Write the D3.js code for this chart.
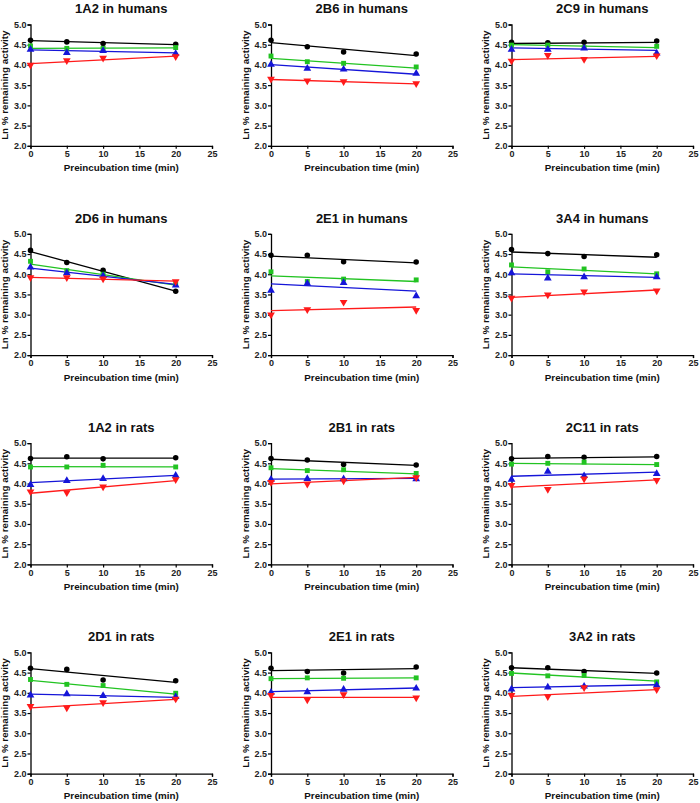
<!DOCTYPE html>
<html><head><meta charset="utf-8">
<script src="https://cdn.jsdelivr.net/npm/d3@7"></script>
<style>body{margin:0;background:#fff;} text{font-family:"Liberation Sans",Arial,sans-serif;font-weight:bold;}</style>
</head><body>
<svg id="c" width="700" height="803"></svg>
<script>
const panelTitles = ["1A2 in humans","2B6 in humans","2C9 in humans",
  "2D6 in humans","2E1 in humans","3A4 in humans",
  "1A2 in rats","2B1 in rats","2C11 in rats",
  "2D1 in rats","2E1 in rats","3A2 in rats"];
const times = [0, 5, 10, 20];
const xTicks = [0, 5, 10, 15, 20, 25];
const yTicks = [2.0, 2.5, 3.0, 3.5, 4.0, 4.5, 5.0];

// measured points per panel (x = 0, 5, 10, 20)
const blackPts = [
  [4.61,4.57,4.53,4.51],[4.61,4.45,4.32,4.27],[4.56,4.55,4.56,4.59],
  [4.59,4.29,4.10,3.58],[4.47,4.47,4.31,4.30],[4.61,4.51,4.44,4.48],
  [4.62,4.66,4.61,4.64],[4.62,4.58,4.47,4.46],[4.61,4.67,4.65,4.67],
  [4.61,4.58,4.32,4.30],[4.61,4.53,4.49,4.64],[4.62,4.62,4.53,4.49]];
const greenPts = [
  [4.47,4.41,4.41,4.43],[4.22,4.08,4.04,3.95],[4.49,4.49,4.43,4.46],
  [4.32,4.09,4.00,3.75],[4.06,3.82,3.88,3.86],[4.23,4.06,4.13,4.01],
  [4.41,4.41,4.45,4.41],[4.39,4.32,4.34,4.25],[4.48,4.50,4.53,4.47],
  [4.33,4.21,4.18,3.99],[4.35,4.37,4.36,4.37],[4.48,4.42,4.43,4.27]];
const bluePts = [
  [4.38,4.30,4.35,4.28],[4.01,3.91,3.89,3.79],[4.38,4.38,4.41,4.29],
  [4.17,4.03,3.96,3.73],[3.60,3.77,3.79,3.46],[4.03,3.90,3.93,3.93],
  [3.97,4.07,4.12,4.20],[4.10,4.12,4.11,4.11],[4.10,4.30,4.19,4.24],
  [3.94,3.97,3.93,3.90],[4.01,4.02,4.08,4.11],[4.09,4.14,4.16,4.19]];
const redPts = [
  [4.00,4.11,4.17,4.21],[3.65,3.61,3.59,3.54],[4.10,4.24,4.14,4.23],
  [3.92,3.92,3.89,3.82],[3.00,3.13,3.31,3.11],[3.41,3.49,3.57,3.59],
  [3.80,3.78,3.92,4.10],[4.03,3.99,4.07,4.15],[3.96,3.86,4.12,4.08],
  [3.67,3.63,3.76,3.85],[3.94,3.83,3.96,3.88],[3.94,3.91,4.13,4.08]];

// fitted line values at x = 0 and x = 20
const blackFit = [[4.60,4.50],[4.55,4.23],[4.53,4.56],[4.56,3.58],[4.45,4.28],[4.55,4.42],
  [4.63,4.63],[4.60,4.45],[4.62,4.66],[4.60,4.26],[4.55,4.60],[4.62,4.48]];
const greenFit = [[4.41,4.42],[4.16,3.92],[4.50,4.43],[4.25,3.73],[3.96,3.82],[4.18,4.01],
  [4.42,4.41],[4.37,4.24],[4.50,4.47],[4.31,3.97],[4.35,4.37],[4.49,4.29]];
const blueFit = [[4.37,4.30],[4.01,3.77],[4.42,4.36],[4.15,3.75],[3.76,3.58],[4.01,3.92],
  [4.02,4.20],[4.11,4.13],[4.18,4.28],[3.97,3.89],[4.03,4.12],[4.13,4.20]];
const redFit = [[4.03,4.22],[3.64,3.53],[4.13,4.21],[3.92,3.83],[3.10,3.19],[3.43,3.61],
  [3.76,4.07],[3.99,4.15],[3.91,4.09],[3.63,3.84],[3.89,3.89],[3.91,4.08]];
const fitX = [0, 20];

const series = [
  {pts: blackPts, fit: blackFit, color: "#000000", sym: d3.symbolCircle, size: 24, rot: 0},
  {pts: greenPts, fit: greenFit, color: "#22c322", sym: d3.symbolSquare, size: 24, rot: 0},
  {pts: bluePts,  fit: blueFit,  color: "#1515d8", sym: d3.symbolTriangle, size: 26, rot: 0},
  {pts: redPts,   fit: redFit,   color: "#ff1a1a", sym: d3.symbolTriangle, size: 26, rot: 180}
];

const svg = d3.select("#c");
const W = 181.5, H = 121.3;
panelTitles.forEach((title, i) => {
  const col = i % 3, row = Math.floor(i / 3);
  const ox = 30.5 + col * 240.5, oy = 24.5 + row * 209.3;
  const g = svg.append("g").attr("transform", `translate(${ox},${oy})`);
  const x = d3.scaleLinear().domain([0, 25]).range([0, W]);
  const y = d3.scaleLinear().domain([2, 5]).range([H, 0]);

  const xa = g.append("g").attr("transform", `translate(0,${H})`)
    .call(d3.axisBottom(x).tickValues(xTicks).tickSize(3).tickPadding(2).tickFormat(d3.format("d")));
  const ya = g.append("g")
    .call(d3.axisLeft(y).tickValues(yTicks).tickSize(3).tickPadding(1).tickFormat(d3.format(".1f")));
  [xa, ya].forEach(a => {
    a.select(".domain").attr("stroke", "#000").attr("stroke-width", 1.3);
    a.selectAll(".tick line").attr("stroke", "#000").attr("stroke-width", 1.2);
    a.selectAll(".tick text").attr("fill", "#222").style("font-size", "9px")
      .style("font-family", "'Liberation Sans',Arial,sans-serif").style("font-weight", "bold");
  });

  g.append("text").attr("x", W / 2).attr("y", -14.5).attr("text-anchor", "middle")
    .attr("dominant-baseline", "middle").style("font-size", "13px").attr("fill", "#111").text(title);
  g.append("text").attr("x", W / 2).attr("y", H + 23).attr("text-anchor", "middle")
    .attr("dominant-baseline", "middle").style("font-size", "9.8px").attr("fill", "#111")
    .text("Preincubation time (min)");
  g.append("text").attr("transform", `translate(-25,${H / 2}) rotate(-90)`)
    .attr("text-anchor", "middle").attr("dominant-baseline", "middle")
    .style("font-size", "9.8px").attr("fill", "#111").text("Ln % remaining activity");

  series.forEach(s => {
    const f = s.fit[i];
    g.append("line").attr("x1", x(fitX[0])).attr("y1", y(f[0]))
      .attr("x2", x(fitX[1])).attr("y2", y(f[1]))
      .attr("stroke", s.color).attr("stroke-width", 1.3);
  });
  series.forEach(s => {
    const sym = d3.symbol().type(s.sym).size(s.size);
    g.selectAll(null).data(s.pts[i]).enter().append("path")
      .attr("d", sym)
      .attr("transform", (d, k) => `translate(${x(times[k])},${y(d)}) rotate(${s.rot})`)
      .attr("fill", s.color);
  });
});
</script>
</body></html>
